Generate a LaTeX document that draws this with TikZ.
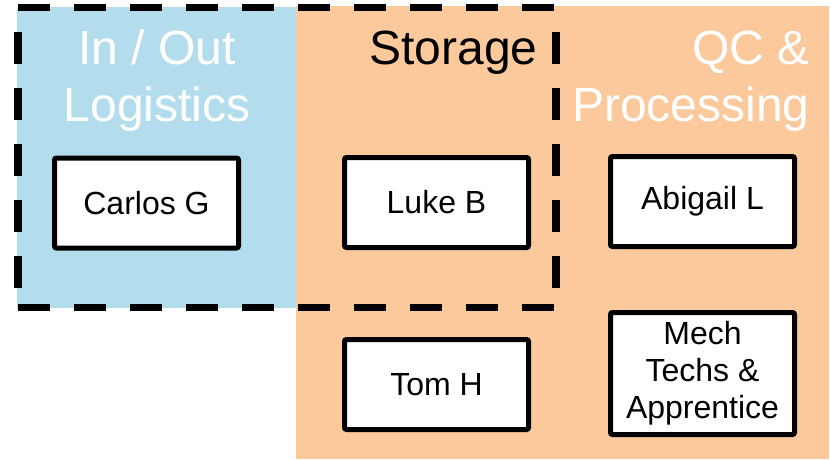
\documentclass[tikz,border=0pt]{standalone}
\usepackage{fontspec}
\setmainfont{Liberation Sans}
\definecolor{logblue}{RGB}{179,221,236}
\definecolor{procorange}{RGB}{251,201,156}
\tikzset{
  person/.style={draw=black, line width=5pt, fill=white, rounded corners=2pt,
    minimum width=184pt, minimum height=90pt, inner sep=0pt, align=center,
    font=\fontsize{32}{37}\selectfont},
  area/.style={font=\fontsize{48}{57}\selectfont, anchor=base},
  frame/.style={line width=7.5pt, dash pattern=on 32pt off 24pt},
  frameside/.style={frame, dash phase=32pt},
}
\begin{document}
\begin{tikzpicture}[x=1pt, y=-1pt]
  \useasboundingbox (0,0) rectangle (831,459);
  % coloured areas
  \fill[logblue] (17,7) rectangle (296,308);
  \fill[procorange] (296,6) rectangle (829,459);
  % dashed grouping frame, drawn side by side
  \coordinate (tl) at (18,7.5);
  \coordinate (tr) at (556,7.5);
  \coordinate (bl) at (18,307.5);
  \coordinate (br) at (556,307.5);
  \draw[frame] (tl) -- (tr);
  \draw[frame] (bl) -- (br);
  \draw[frameside] (tl) -- (bl);
  \draw[frameside] (tr) -- (br);
  % area titles
  \node[area, text=white] (t1a) at (157,64) {In / Out};
  \node[area, text=white] (t1b) at (157,121) {Logistics};
  \node[area, anchor=base east, text=black] (t2) at (541,64) {Storage};
  \node[area, anchor=base east, text=white] (t3a) at (813,64) {QC \&};
  \node[area, anchor=base east, text=white] (t3b) at (813,121) {Processing};
  % people
  \node[person] (carlos) at (146.5,203) {Carlos G};
  \node[person] (luke) at (436.5,202.5) {Luke B};
  \node[person] (abigail) at (702.5,201.5) {Abigail L};
  \node[person] (tom) at (436.5,384.5) {Tom H};
  \node[person, minimum height=122pt] (mech) at (702.5,373.5) {Mech\\Techs \&\\Apprentice};
\end{tikzpicture}
\end{document}
